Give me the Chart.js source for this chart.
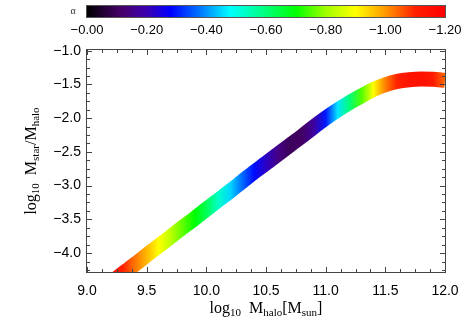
<!DOCTYPE html>
<html>
<head>
<meta charset="utf-8">
<script src="https://cdn.jsdelivr.net/npm/chart.js@4.4.1/dist/chart.umd.min.js"></script>
<style>
  body { margin: 0; background: #fff; }
  #wrap { position: relative; width: 471px; height: 336px; }
  #wrap canvas { position: absolute; left: 0; top: 0; }
</style>
</head>
<body>
<div id="wrap">
  <canvas id="chart" width="471" height="336"></canvas>
  <canvas id="cbar" width="471" height="45"></canvas>
</div>
<script>
// halo mass grid, stellar-to-halo ratio and alpha
const logMhalo = [9.0, 9.1, 9.2, 9.3, 9.4, 9.5, 9.6, 9.7, 9.8, 9.9,
                  10.0, 10.1, 10.2, 10.3, 10.4, 10.5, 10.6, 10.7, 10.8, 10.9,
                  11.0, 11.1, 11.2, 11.3, 11.4, 11.5, 11.6, 11.7, 11.8, 11.9, 12.0];
const logRatio = [-4.71, -4.575, -4.44, -4.30, -4.17, -4.03, -3.895, -3.76, -3.62, -3.49,
                  -3.35, -3.215, -3.08, -2.94, -2.80, -2.67, -2.535, -2.40, -2.27, -2.13,
                  -2.00, -1.88, -1.77, -1.67, -1.575, -1.505, -1.455, -1.43, -1.42, -1.423, -1.44];
const alpha = [-1.20, -1.18, -1.15, -1.10, -1.03, -0.97, -0.90, -0.83, -0.76, -0.70,
               -0.63, -0.53, -0.45, -0.37, -0.29, -0.22, -0.15, -0.10, -0.11, -0.18,
               -0.30, -0.46, -0.60, -0.75, -0.90, -1.02, -1.10, -1.14, -1.15, -1.12, -1.04];

const xTicks = [9.0, 9.5, 10.0, 10.5, 11.0, 11.5, 12.0];
const yTicks = [-4.0, -3.5, -3.0, -2.5, -2.0, -1.5, -1.0];
const cbarTicks = [0, -0.2, -0.4, -0.6, -0.8, -1.0, -1.2];

// colour table (alpha -> colour)
const cmapValues = [0, -0.05, -0.12, -0.2, -0.28, -0.38, -0.48, -0.58, -0.7, -0.8, -0.9, -1.0, -1.1, -1.2];
const cmapColors = ['#000000', '#1e0030', '#48006c', '#3a00b0', '#0000ff', '#0078ff', '#00ffff',
                    '#00ff90', '#00ff00', '#a0ff00', '#ffff00', '#ff9800', '#ff2000', '#ff0000'];

function hexRgb(h) {
  return [parseInt(h.slice(1, 3), 16), parseInt(h.slice(3, 5), 16), parseInt(h.slice(5, 7), 16)];
}
function cmap(a) {
  if (a >= cmapValues[0]) return cmapColors[0];
  for (let i = 1; i < cmapValues.length; i++) {
    if (a >= cmapValues[i]) {
      const t = (cmapValues[i - 1] - a) / (cmapValues[i - 1] - cmapValues[i]);
      const c0 = hexRgb(cmapColors[i - 1]), c1 = hexRgb(cmapColors[i]);
      const c = c0.map((v, k) => Math.round(v + (c1[k] - v) * t));
      return 'rgb(' + c.join(',') + ')';
    }
  }
  return cmapColors[cmapColors.length - 1];
}

// -1.0 -> "−1.0"
const fmt = (v, d) => (v < 0 ? '\u2212' : '') + Math.abs(v).toFixed(d);

// line colour follows alpha along the curve
function lineGradient(ctx) {
  const chart = ctx.chart;
  if (!chart.chartArea) return '#ff0000';
  const xs = chart.scales.x;
  const x0 = xs.getPixelForValue(logMhalo[0]);
  const x1 = xs.getPixelForValue(logMhalo[logMhalo.length - 1]);
  const g = chart.ctx.createLinearGradient(x0, 0, x1, 0);
  logMhalo.forEach((m, i) => {
    g.addColorStop((xs.getPixelForValue(m) - x0) / (x1 - x0), cmap(alpha[i]));
  });
  return g;
}

// frame with inward ticks on all four sides
const framePlugin = {
  id: 'frame',
  afterDraw(chart) {
    const { ctx, chartArea: a, scales } = chart;
    ctx.save();
    ctx.strokeStyle = '#444';
    ctx.lineWidth = 1;
    ctx.strokeRect(a.left - 0.5, a.top - 0.5, a.right - a.left + 1, a.bottom - a.top + 1);
    ctx.beginPath();
    const xMinor = [], yMinor = [];
    for (let i = 0; i < xTicks.length - 1; i++)
      for (let k = 1; k < 4; k++) xMinor.push(xTicks[i] + k * 0.125);
    for (let v = -4.0 - 0.125; v > scales.y.min; v -= 0.125) yMinor.push(v);
    for (let i = 0; i < yTicks.length - 1; i++)
      for (let k = 1; k < 4; k++) yMinor.push(yTicks[i] + k * 0.125);
    const xt = (v, len) => {
      const p = Math.round(scales.x.getPixelForValue(v)) + 0.5;
      ctx.moveTo(p, a.bottom); ctx.lineTo(p, a.bottom - len);
      ctx.moveTo(p, a.top); ctx.lineTo(p, a.top + len);
    };
    const yt = (v, len) => {
      const p = Math.round(scales.y.getPixelForValue(v)) + 0.5;
      ctx.moveTo(a.left, p); ctx.lineTo(a.left + len, p);
      ctx.moveTo(a.right, p); ctx.lineTo(a.right - len, p);
    };
    xTicks.forEach(v => xt(v, 5));
    xMinor.forEach(v => xt(v, 3));
    yTicks.forEach(v => yt(v, 5));
    yMinor.forEach(v => yt(v, 3));
    ctx.stroke();
    ctx.restore();
  }
};

// axis titles with subscripts
function richText(ctx, parts, x, y) {
  const big = '16px "Liberation Serif"', small = '11px "Liberation Serif"';
  let w = 0;
  parts.forEach(p => { ctx.font = p[1] ? small : big; w += ctx.measureText(p[0]).width; });
  let cx = x - w / 2;
  ctx.textBaseline = 'alphabetic';
  ctx.textAlign = 'left';
  parts.forEach(p => {
    ctx.font = p[1] ? small : big;
    ctx.fillText(p[0], cx, y + (p[1] ? 3 : 0));
    cx += ctx.measureText(p[0]).width;
  });
}
const titlePlugin = {
  id: 'titles',
  afterDraw(chart) {
    const { ctx, chartArea: a } = chart;
    ctx.save();
    ctx.fillStyle = '#000';
    richText(ctx, [['log', 0], ['10', 1], ['  M', 0], ['halo', 1], ['[M', 0], ['sun', 1], [']', 0]],
             (a.left + a.right) / 2, 313);
    ctx.translate(36, (a.top + a.bottom) / 2);
    ctx.rotate(-Math.PI / 2);
    richText(ctx, [['log', 0], ['10', 1], ['  M', 0], ['star', 1], ['/M', 0], ['halo', 1]], 0, 0);
    ctx.restore();
  }
};

new Chart(document.getElementById('chart'), {
  type: 'line',
  data: {
    datasets: [{
      data: logMhalo.map((m, i) => ({ x: m, y: logRatio[i] })),
      borderColor: lineGradient,
      borderWidth: 15,
      borderCapStyle: 'butt',
      borderJoinStyle: 'round',
      cubicInterpolationMode: 'monotone',
      pointRadius: 0,
      fill: false,
      clip: 0
    }]
  },
  options: {
    responsive: false,
    animation: false,
    layout: { padding: { top: 50, right: 26, left: 0, bottom: 0 } },
    plugins: { legend: { display: false }, tooltip: { enabled: false } },
    scales: {
      x: {
        type: 'linear', min: 9.0, max: 12.0,
        afterBuildTicks: s => { s.ticks = xTicks.map(v => ({ value: v })); },
        afterFit: s => { s.height = 64; },
        grid: { display: false, drawTicks: false },
        border: { display: false },
        ticks: {
          padding: 11, color: '#000', maxRotation: 0, autoSkip: false,
          font: { family: 'Liberation Sans', size: 14 },
          callback: v => fmt(v, 1)
        }
      },
      y: {
        type: 'linear', min: -4.28, max: -0.99,
        afterBuildTicks: s => { s.ticks = yTicks.map(v => ({ value: v })); },
        afterFit: s => { s.width = 87; },
        grid: { display: false, drawTicks: false },
        border: { display: false },
        ticks: {
          padding: 6, color: '#000', autoSkip: false,
          font: { family: 'Liberation Sans', size: 14 },
          callback: v => fmt(v, 1)
        }
      }
    }
  },
  plugins: [framePlugin, titlePlugin]
});

// colour bar
const cbarPlugin = {
  id: 'cbarFill',
  beforeDraw(chart) {
    const { ctx, chartArea: a, scales } = chart;
    const x0 = scales.x.getPixelForValue(0), x1 = scales.x.getPixelForValue(-1.2);
    const g = ctx.createLinearGradient(x0, 0, x1, 0);
    cmapValues.forEach((v, i) => g.addColorStop((scales.x.getPixelForValue(v) - x0) / (x1 - x0), cmapColors[i]));
    ctx.save();
    ctx.fillStyle = g;
    ctx.fillRect(a.left, a.top, a.right - a.left, a.bottom - a.top);
    ctx.strokeStyle = '#555';
    ctx.lineWidth = 1;
    ctx.strokeRect(a.left - 0.5, a.top - 0.5, a.right - a.left + 1, a.bottom - a.top + 1);
    ctx.fillStyle = '#333';
    ctx.font = '10px "Liberation Serif"';
    ctx.textAlign = 'center';
    ctx.textBaseline = 'middle';
    ctx.fillText('\u03b1', a.left - 14, (a.top + a.bottom) / 2);
    ctx.restore();
  }
};

new Chart(document.getElementById('cbar'), {
  type: 'scatter',
  data: { datasets: [] },
  options: {
    responsive: false,
    animation: false,
    layout: { padding: { top: 6, left: 87, right: 26, bottom: 0 } },
    plugins: { legend: { display: false }, tooltip: { enabled: false } },
    scales: {
      x: {
        type: 'linear', min: -1.2, max: 0, reverse: true,
        afterBuildTicks: s => { s.ticks = cbarTicks.map(v => ({ value: v })); },
        afterFit: s => { s.height = 28; },
        grid: { display: false, drawTicks: false },
        border: { display: false },
        ticks: {
          padding: 6, color: '#000', maxRotation: 0, autoSkip: false,
          font: { family: 'Liberation Sans', size: 13 },
          callback: v => '\u2212' + Math.abs(v).toFixed(2)
        }
      },
      y: { display: false }
    }
  },
  plugins: [cbarPlugin]
});
</script>
</body>
</html>
